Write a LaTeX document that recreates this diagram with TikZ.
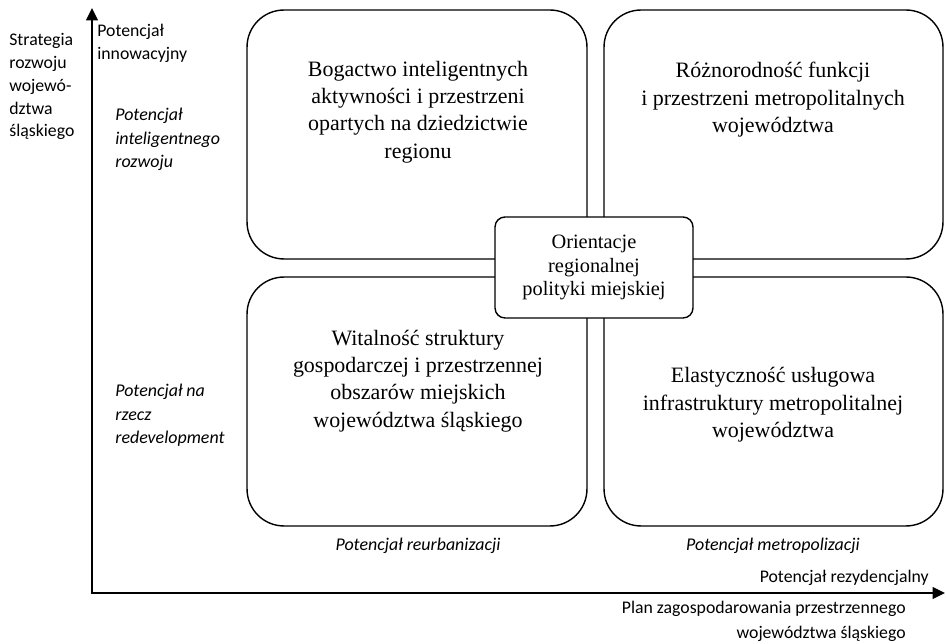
\documentclass[tikz,border=0pt]{standalone}
\usepackage{fontspec}
\setmainfont{Liberation Serif}
\newfontfamily\labelfont{Carlito}
\usepackage{tikz}
\usetikzlibrary{arrows.meta,positioning}

\begin{document}
\begin{tikzpicture}[x=0.02cm, y=-0.02cm,
    quad/.style={draw, thick, rounded corners=0.74cm, minimum width=6.8cm, minimum height=4.98cm, inner sep=0pt},
    quadtext/.style={font=\fontsize{12.5}{15.6}\selectfont, align=center},
    axislabel/.style={font=\labelfont\fontsize{10.1}{13}\selectfont, inner sep=0pt},
    potential/.style={font=\labelfont\itshape\fontsize{10.2}{13.3}\selectfont, inner sep=0pt}]
    \useasboundingbox (0,0) rectangle (946,644);

    % Axes
    \coordinate (origin) at (92,593);
    \coordinate (ytop) at (92,8);
    \coordinate (xend) at (945,593);
    \draw[line width=1.4pt, -{Triangle[length=7pt, width=6.5pt]}] (origin) -- (ytop);
    \draw[line width=1.4pt, -{Triangle[length=7pt, width=6.5pt]}] ([xshift=-0.7pt]origin) -- (xend);

    % Four quadrants
    \node[quad] (tl) at (417,134.5) {};
    \node[quad, minimum width=6.78cm] (tr) at (773.5,134.5) {};
    \node[quad] (bl) at (417,401.5) {};
    \node[quad, minimum width=6.78cm] (br) at (773.5,401.5) {};

    \node[quadtext] (tltext) at (418,112) {Bogactwo inteligentnych\\aktywności i przestrzeni\\opartych na dziedzictwie\\regionu};
    \node[quadtext] (trtext) at (773,100) {Różnorodność funkcji\\i przestrzeni metropolitalnych\\województwa};
    \node[quadtext] (bltext) at (418,381) {Witalność struktury\\gospodarczej i przestrzennej\\obszarów miejskich\\województwa śląskiego};
    \node[quadtext] (brtext) at (773,405) {Elastyczność usługowa\\infrastruktury metropolitalnej\\województwa};

    % Centre
    \node[draw, thick, fill=white, rounded corners=0.2cm, minimum width=3.96cm, minimum height=2.02cm, inner sep=0pt,
        font=\fontsize{11.6}{13.4}\selectfont, align=center] (centre) at (594,267.5) {Orientacje\\regionalnej\\polityki miejskiej};

    % Axis labels
    \node[axislabel, align=left, anchor=north west] (strategy) at (9,33) {Strategia\\rozwoju\\wojewó-\\dztwa\\śląskiego};
    \node[axislabel, align=left, anchor=north west] (innov) at (97,24) {Potencjał\\innowacyjny};
    \node[potential, align=left, anchor=north west] (smart) at (115,108) {Potencjał\\inteligentnego\\rozwoju};
    \node[potential, align=left, anchor=north west] (redev) at (115,384) {Potencjał na\\rzecz\\redevelopment};
    \node[potential] (reurb) at (418,546) {Potencjał reurbanizacji};
    \node[potential] (metro) at (773,546) {Potencjał metropolizacji};
    \node[axislabel, anchor=east] (resid) at (929,578) {Potencjał rezydencjalny};
    \node[axislabel, align=right, anchor=north east, font=\labelfont\fontsize{10.1}{14.2}\selectfont] (plan) at (906,601) {Plan zagospodarowania przestrzennego\\województwa śląskiego};
\end{tikzpicture}
\end{document}
